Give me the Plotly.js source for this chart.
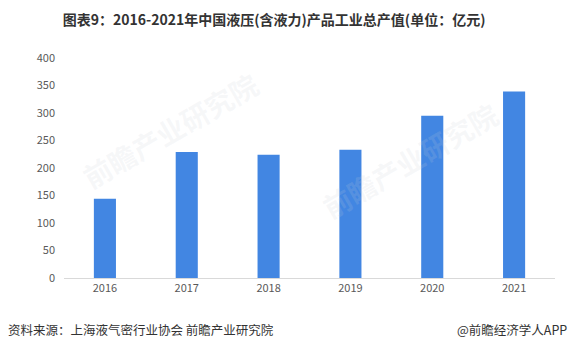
<!DOCTYPE html>
<html>
<head>
<meta charset="utf-8">
<script src="https://cdn.plot.ly/plotly-3.0.1.min.js"></script>
<style>html,body{margin:0;padding:0;background:#fff;}#chart{width:571px;height:353px;}</style>
</head>
<body>
<div id="chart"></div>
<script>
const years = ['2016', '2017', '2018', '2019', '2020', '2021'];
const outputValues = [144, 229, 224, 233, 295, 339];
const yTicks = [0, 50, 100, 150, 200, 250, 300, 350, 400];

const fontFamily = '"Noto Sans CJK SC", "Noto Sans", sans-serif';

const trace = {
  type: 'bar',
  x: years,
  y: outputValues,
  marker: {color: '#4286e2'},
  hoverinfo: 'x+y'
};

const wm = (x, y) => ({
  text: '<b>前瞻产业研究院</b>',
  xref: 'paper', yref: 'paper', x: x, y: y,
  xanchor: 'center', yanchor: 'middle', showarrow: false,
  textangle: -30,
  font: {family: fontFamily, size: 28, color: 'rgba(200,205,215,0.16)'}
});

const layout = {
  width: 571,
  height: 353,
  margin: {l: 64, r: 16, t: 58, b: 75},
  paper_bgcolor: '#ffffff',
  plot_bgcolor: '#ffffff',
  bargap: 0.73,
  showlegend: false,
  font: {family: fontFamily, color: '#595959', size: 11},
  title: {
    text: '<b>图表9：2016-2021年中国液压(含液力)产品工业总产值(单位：亿元)</b>',
    font: {family: fontFamily, size: 14, color: '#333333'},
    x: 0.48, xanchor: 'center', xref: 'container',
    y: 0.943, yanchor: 'middle', yref: 'container'
  },
  xaxis: {
    type: 'category',
    showgrid: false,
    showline: true,
    linecolor: '#d9d9d9',
    linewidth: 1,
    ticks: '',
    tickfont: {size: 11, color: '#595959'},
    fixedrange: true
  },
  yaxis: {
    range: [0, 400],
    tickvals: yTicks,
    showgrid: false,
    zeroline: false,
    showline: false,
    ticks: '',
    ticklabelstandoff: 8,
    tickfont: {size: 11, color: '#595959'},
    fixedrange: true
  },
  annotations: [
    wm(0.216, 0.673),
    wm(0.705, 0.536),
    {
      text: '资料来源：上海液气密行业协会 前瞻产业研究院',
      xref: 'paper', yref: 'paper', x: -0.118, y: -0.236,
      xanchor: 'left', yanchor: 'middle', showarrow: false,
      font: {family: fontFamily, size: 12.5, color: '#333333'}
    },
    {
      text: '@前瞻经济学人APP',
      xref: 'paper', yref: 'paper', x: 1.0285, y: -0.236,
      xanchor: 'right', yanchor: 'middle', showarrow: false,
      font: {family: fontFamily, size: 12.5, color: '#333333'}
    }
  ]
};

Plotly.newPlot('chart', [trace], layout, {displayModeBar: false, staticPlot: true});
</script>
</body>
</html>
